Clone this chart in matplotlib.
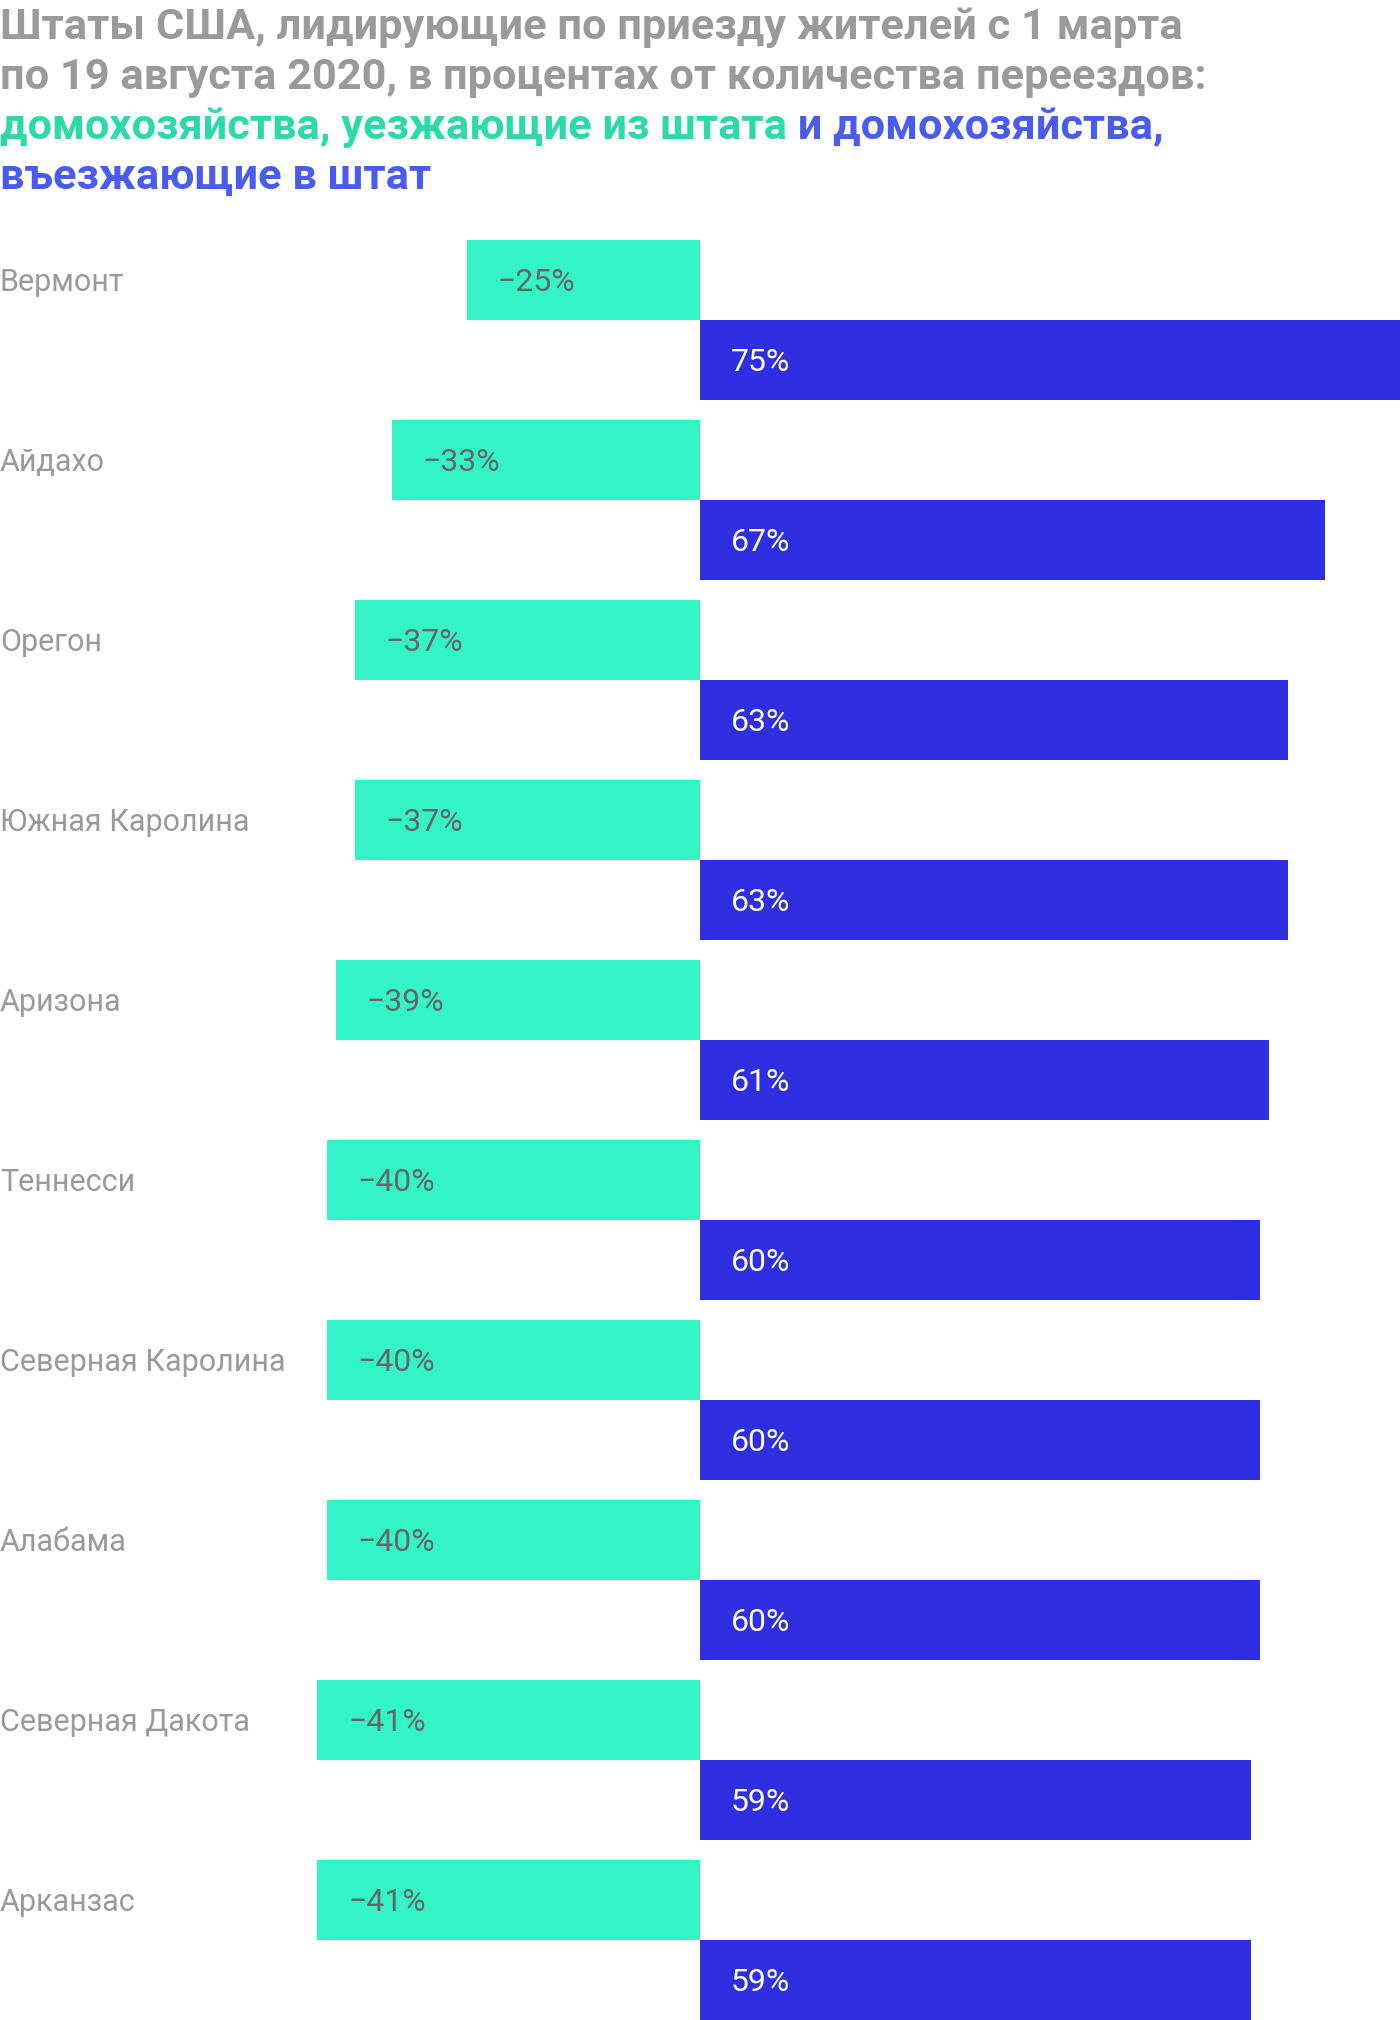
import matplotlib
matplotlib.use("Agg")
import matplotlib.pyplot as plt
import matplotlib.transforms as mtransforms
import numpy as np

# данные
states = ["Вермонт", "Айдахо", "Орегон", "Южная Каролина", "Аризона",
          "Теннесси", "Северная Каролина", "Алабама", "Северная Дакота", "Арканзас"]
outgoing = [-25, -33, -37, -37, -39, -40, -40, -40, -41, -41]
incoming = [75, 67, 63, 63, 61, 60, 60, 60, 59, 59]

title_lines = ["Штаты США, лидирующие по приезду жителей с 1 марта",
               "по 19 августа 2020, в процентах от количества переездов:"]
title_green = "домохозяйства, уезжающие из штата"
title_blue_a = " и домохозяйства,"
title_blue_b = "въезжающие в штат"

GREEN = "#33f4c6"
BLUE = "#2f2fe2"
T_GREEN = "#2bd9ab"
T_BLUE = "#4a5cf0"
GRAY = "#9a9a9a"

plt.rcParams['font.family'] = ['Roboto', 'DejaVu Sans']

W, H = 1400, 2020
fig = plt.figure(figsize=(W / 100, H / 100), dpi=100)

top_px = 240
ax = fig.add_axes([0, 0, 1, (H - top_px) / H])
n = len(states)
bar_h = 80 / 180
y_out = np.arange(n) + bar_h / 2
y_in = np.arange(n) + bar_h * 1.5

ax.barh(y_out, outgoing, height=bar_h, color=GREEN, linewidth=0)
ax.barh(y_in, incoming, height=bar_h, color=BLUE, linewidth=0)
ax.set_xlim(-75, 75)
ax.set_ylim(n - 1 + 2 * bar_h, 0)
ax.set_axis_off()

fs_lab = 22
fs_val = 23
dy = -1.8  # сдвиг вниз, в пунктах
lab_tr = mtransforms.offset_copy(
    mtransforms.blended_transform_factory(ax.transAxes, ax.transData),
    fig=fig, x=0, y=dy, units="points")
for i in range(n):
    ax.text(0.0, y_out[i], states[i], transform=lab_tr, ha="left", va="center",
            fontsize=fs_lab, color=GRAY)
    ax.annotate(f"\u2212{abs(outgoing[i])}%", xy=(outgoing[i], y_out[i]),
                xytext=(22, dy), textcoords="offset points", ha="left", va="center",
                fontsize=fs_val, color="#666666")
    ax.annotate(f"{incoming[i]}%", xy=(0, y_in[i]),
                xytext=(22, dy), textcoords="offset points", ha="left", va="center",
                fontsize=fs_val, color="white")

# заголовок
fs_t = 31.2
baselines = [39, 89, 139, 189]
kw = dict(fontsize=fs_t, fontweight="bold", va="baseline", ha="left")
fig.text(0, 1 - baselines[0] / H, title_lines[0], color=GRAY, **kw)
fig.text(0, 1 - baselines[1] / H, title_lines[1], color=GRAY, **kw)
t_green = fig.text(0, 1 - baselines[2] / H, title_green, color=T_GREEN, **kw)
fig.canvas.draw()
bb = t_green.get_window_extent(renderer=fig.canvas.get_renderer())
fig.text(bb.x1 / W, 1 - baselines[2] / H, title_blue_a, color=T_BLUE, **kw)
fig.text(0, 1 - baselines[3] / H, title_blue_b, color=T_BLUE, **kw)

fig.savefig("out.png", dpi=100)
